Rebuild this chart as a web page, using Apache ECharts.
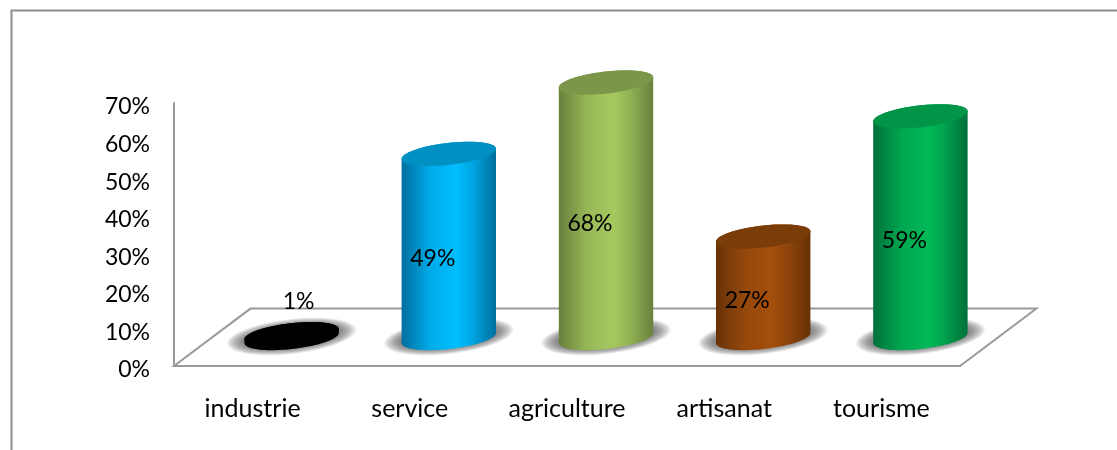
<!DOCTYPE html>
<html>
<head>
<meta charset="utf-8">
<style>html,body{margin:0;padding:0;background:#fff}#c{width:1117px;height:450px}</style>
<script src="https://cdn.jsdelivr.net/npm/echarts@6/dist/echarts.min.js"></script>
</head>
<body>
<div id="c"></div>
<script>
var categories = ['industrie', 'service', 'agriculture', 'artisanat', 'tourisme'];
var values = [1, 49, 68, 27, 59];
var labelNudgeX = [7, -16, -16, -16, -16];
var edgeColors = ['#000000', '#006f9e', '#68803c', '#663207', '#00703a'];
var midColors = ['#000000', '#00beff', '#a6c95f', '#a44f0c', '#00b957'];
var capColors = ['#000000', '#0090c2', '#7b9649', '#7a3c08', '#009547'];

var FONT = 'Lato, Carlito, sans-serif';
var DEPTH_X = 39, DEPTH_Y = 28, RX = 47.5, RY = 11, TILT = -6.5 * Math.PI / 180;

function ellipsePoints(cx, cy, a, b, from, to) {
  var pts = [], n = 48, c = Math.cos(TILT), s = Math.sin(TILT);
  for (var i = 0; i <= n; i++) {
    var t = from + (to - from) * i / n;
    pts.push([cx + a * Math.cos(t) * c - b * Math.sin(t) * s,
              cy + a * Math.cos(t) * s + b * Math.sin(t) * c]);
  }
  return pts;
}

function renderFloor(params, api) {
  var g = params.coordSys;
  var l = g.x, r = g.x + g.width, f = g.y + g.height, b = f - DEPTH_Y * 2.05, dx = DEPTH_X * 1.96;
  return {
    type: 'polygon', silent: true,
    shape: { points: [[l, f], [l + dx, b], [r + dx, b], [r, f]] },
    style: { fill: '#ffffff', stroke: '#9a9a9a', lineWidth: 2 }
  };
}

function renderCylinder(params, api) {
  var i = api.value(0), v = api.value(1);
  var base = api.coord([i, 0]), top = api.coord([i, v]);
  var cx = base[0] + DEPTH_X, by = base[1] - DEPTH_Y, ty = top[1] - DEPTH_Y;
  var t0 = Math.atan2(-RY * Math.sin(TILT), RX * Math.cos(TILT));
  var body = ellipsePoints(cx, by, RX, RY, t0, t0 + Math.PI)
    .concat(ellipsePoints(cx, ty, RX, RY, t0 + Math.PI, t0 + 2 * Math.PI));
  var grad = { type: 'linear', x: 0, y: 0, x2: 1, y2: 0, colorStops: [
    { offset: 0, color: edgeColors[i] },
    { offset: 0.3, color: echarts.color.lerp(0.75, [edgeColors[i], midColors[i]]) },
    { offset: 0.58, color: midColors[i] },
    { offset: 0.75, color: echarts.color.lerp(0.7, [edgeColors[i], midColors[i]]) },
    { offset: 1, color: edgeColors[i] }
  ]};
  var labelY = v < 5 ? ty - 33 : (by + ty) / 2 + 13;
  var children = [];
  for (var k = 12; k >= 0; k--) {
    children.push({ type: 'polygon', silent: true,
      shape: { points: ellipsePoints(cx, by - 1.5, RX + 2 + k * 1.3, RY + 0.5 + k * 0.5, 0, 2 * Math.PI) },
      style: { fill: 'rgba(70,70,70,0.07)' } });
  }
  children.push(
    { type: 'polygon', silent: true, shape: { points: body }, style: { fill: grad } },
    { type: 'polygon', silent: true, shape: { points: ellipsePoints(cx, ty, RX, RY, 0, 2 * Math.PI) }, style: { fill: capColors[i] } },
    { type: 'text', silent: true, style: { text: v + '%', x: cx + labelNudgeX[i], y: labelY,
        align: 'center', verticalAlign: 'middle', font: '23px ' + FONT, fill: '#000000' } }
  );
  return { type: 'group', children: children };
}

var chart = echarts.init(document.getElementById('c'), null, { renderer: 'canvas' });
chart.setOption({
  animation: false,
  backgroundColor: '#ffffff',
  grid: { left: 174, right: 157, top: 103, bottom: 84 },
  xAxis: {
    type: 'category', data: categories, z: 5,
    axisLine: { show: true, lineStyle: { color: '#9a9a9a', width: 2 } },
    axisTick: { show: false },
    axisLabel: { interval: 0, margin: 30, color: '#000000', fontSize: 25, fontFamily: FONT }
  },
  yAxis: {
    type: 'value', min: 0, max: 70, interval: 10, z: 5,
    axisLine: { show: true, lineStyle: { color: '#9a9a9a', width: 2 } },
    axisTick: { show: false }, splitLine: { show: false },
    axisLabel: { margin: 24, color: '#000000', fontSize: 23, fontFamily: FONT, formatter: '{value}%', verticalAlign: 'top', lineHeight: 8 }
  },
  graphic: [{
    type: 'polyline', silent: true,
    shape: { points: [[11.5, 450], [11.5, 10.5], [1117, 10.5]] },
    style: { stroke: '#8c8c8c', lineWidth: 2, fill: null }
  }],
  series: [
    { type: 'custom', z: 1, clip: false, silent: true, data: [[0, 0]], renderItem: renderFloor },
    { type: 'custom', z: 2, clip: false, silent: true,
      data: values.map(function (v, i) { return [i, v]; }), renderItem: renderCylinder }
  ]
});
</script>
</body>
</html>
